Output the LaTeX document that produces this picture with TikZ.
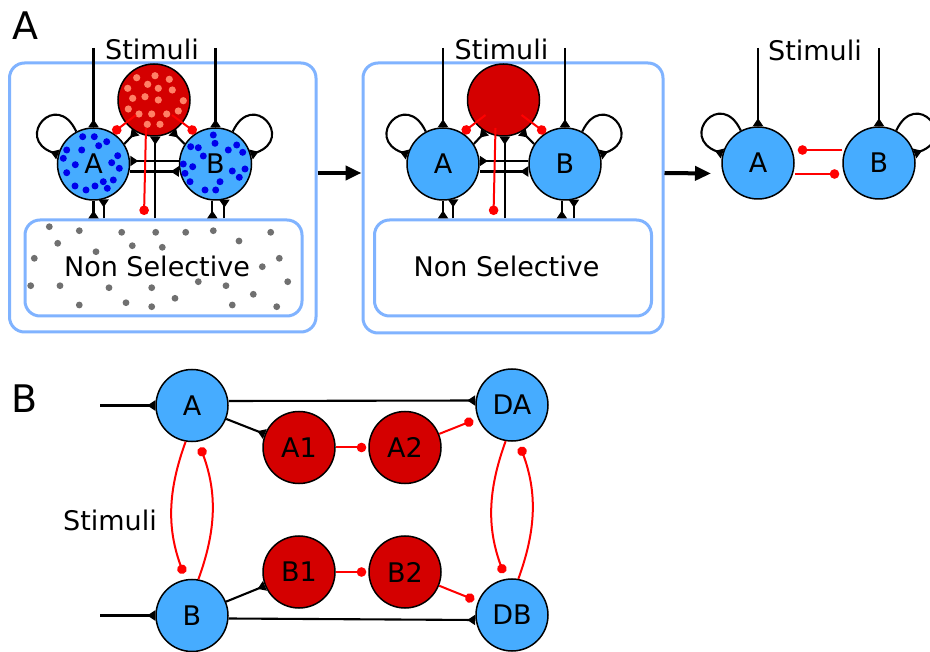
\documentclass[tikz,border=0pt]{standalone}
\usepackage{fontspec}
\setmainfont{DejaVu Sans}
\usetikzlibrary{arrows.meta,calc}
\definecolor{popblue}{RGB}{70,172,255}
\definecolor{popred}{RGB}{212,0,0}
\definecolor{dotsalmon}{RGB}{255,128,102}
\definecolor{dotblue}{RGB}{0,0,235}
\definecolor{dotgray}{RGB}{112,112,112}
\definecolor{boxblue}{RGB}{128,179,255}
\definecolor{inhred}{RGB}{255,0,0}
\tikzset{
  pop/.style={circle, draw=black, line width=1.5pt, minimum size=72pt, inner sep=0pt, font=\fontsize{27}{30}\selectfont},
  bluepop/.style={pop, fill=popblue},
  redpop/.style={pop, fill=popred},
  exc/.style={draw=black, line width=2.1pt, -{Triangle[reversed,length=8pt,width=10pt]}},
  inh/.style={draw=inhred, line width=2pt, -{Circle[length=9.5pt]}},
  panelbox/.style={draw=boxblue, line width=3pt, rounded corners=15pt, inner sep=0pt},
  bigtext/.style={font=\fontsize{27}{30}\selectfont, inner sep=0pt},
  paneltag/.style={font=\fontsize{38}{40}\selectfont, inner sep=0pt},
  bigarrow/.style={draw=black, line width=4pt, -{Triangle[length=16pt,width=14pt]}},
}
\newcommand{\abnodes}[1]{%
  \node[panelbox, minimum width=277pt, minimum height=96pt] (ns#1) at (163.5,-268) {};
  \node[bigtext, anchor=base] (nst#1) at (157,-276.7) {Non Selective};
  \node[redpop] (R#1) at (154,-100) {};
  \node[bluepop] (A#1) at (93.5,-164) {A};
  \node[bluepop] (B#1) at (215.5,-164) {B};
  \node[bigtext, anchor=base] (st#1) at (152,-60) {Stimuli};
  \coordinate (sa#1) at (93.5,-48);
  \coordinate (sb#1) at (215.5,-48);
}
\newcommand{\abedges}[1]{%
  \draw[exc] (sa#1) -- (A#1.north);
  \draw[exc] (sb#1) -- (B#1.north);
  \draw[exc] (A#1.118) to[out=115,in=160,distance=47pt] (A#1.165);
  \draw[exc] (B#1.62) to[out=65,in=20,distance=47pt] (B#1.15);
  \draw[exc] ([yshift=3pt]B#1.west) -- ([yshift=3pt]A#1.east);
  \draw[exc] ([yshift=-7.5pt]A#1.east) -- ([yshift=-7.5pt]B#1.west);
  \draw[exc] (A#1.south) -- (A#1.south |- ns#1.north);
  \draw[exc] (A#1.-74 |- ns#1.north) -- (A#1.-74);
  \draw[exc] (B#1.-95) -- (B#1.-95 |- ns#1.north);
  \draw[exc] (B#1.-76 |- ns#1.north) -- (B#1.-76);
  \draw[exc] (R#1.-88 |- ns#1.north) -- (R#1.-88);
  \draw[exc] (A#1.33) -- (R#1.240);
  \draw[exc] (B#1.147) -- (R#1.300);
  \draw[inh] ($(R#1.center)+(-8,-28)$) -- ($(ns#1.north -| R#1.center)+(-10,3.5)$);
  \draw[inh] ($(R#1.center)+(-18,-15)$) -- (A#1.58);
  \draw[inh] ($(R#1.center)+(18,-15)$) -- (B#1.122);
}
\begin{document}
\begin{tikzpicture}[x=1pt,y=1pt]
\useasboundingbox (0,0) rectangle (930,-652);
\fill[white] (0,0) rectangle (930,-652);

% panel tags
\node[paneltag] (tagA) at (25.5,-25.5) {A};
\node[paneltag] (tagB) at (25,-398.5) {B};

% ---------- panel A, first box ----------
\node[panelbox, minimum width=306.5pt, minimum height=269pt] (o1) at (162.75,-197.5) {};
\abnodes{1}
\foreach \x/\y in {49.3/226.7,79.3/230.7,121.7/232.3,155.7/232.3,185.7/232.3,213.3/230.7,270.7/232.3,57.7/243.3,96/251.7,132.3/245.7,162.3/247.3,239/241,34.3/258.3,279.3/258.3,262.3/266.7,30.7/285.7,60/285.7,109/287.7,151.7/287.7,198.3/281.7,226/285.7,287.7/281.7,253.3/294.3,79.3/305,126/302.7,151.7/306.7,175/298.3,232.3/305,276.7/306.7}
  \fill[dotgray] (\x,-\y) circle (3.4);
\foreach \x/\y in {136.7/77.7,155/75.7,169.3/79.3,127.7/88.3,147.7/84.3,158.3/88.3,172.3/90,132.7/98.3,145/96.7,158.3/100,183.3/100.7,128.3/109,139/114,151.7/114,166.7/114,178.3/111,147.3/124.3,160/124.3}
  \fill[dotsalmon] (\x,-\y) circle (3.6);
\foreach \x/\y in {82.7/136.7,94.3/136.7,106.7/141.7,98.7/145.7,66.7/150,81.7/150,117.7/155.7,63.3/158.3,75.3/164.7,111.7/162.7,119.3/168.3,66.7/172.7,113.3/180,75/186,86/190,95/186,103.3/181.7,107.3/188.3}
  \fill[dotblue] (\x,-\y) circle (3.5);
\foreach \x/\y in {213.3/135,215/143.3,190.7/146.7,198.3/147.7,228.3/150,236.7/145,242.7/152.3,203.3/156,183.3/164,192.7/166.7,185/173.3,232.3/171,245/169,239.3/177.3,190/181.7,220/181.7,205/190,215.7/190}
  \fill[dotblue] (\x,-\y) circle (3.5);
\abedges{1}

% ---------- panel A, second box ----------
\node[panelbox, minimum width=300pt, minimum height=270pt] (o2) at (513,-198) {};
\begin{scope}[xshift=349.5pt]
  \abnodes{2}
  \abedges{2}
\end{scope}

\draw[bigarrow] ([yshift=24.5pt]o1.east) -- ([yshift=25pt]o2.west);
\coordinate (p3in) at (711,-173.5);
\draw[bigarrow] ([yshift=25pt]o2.east) -- (p3in);

% ---------- panel A, third part ----------
\node[bluepop] (A3) at (758,-163) {A};
\node[bluepop] (B3) at (879,-163) {B};
\node[bigtext, anchor=base] (st3) at (815,-60.5) {Stimuli};
\coordinate (sa3) at (758,-48);
\coordinate (sb3) at (879,-48);
\draw[exc] (sa3) -- (A3.north);
\draw[exc] (sb3) -- (B3.north);
\draw[exc] (A3.118) to[out=115,in=160,distance=47pt] (A3.165);
\draw[exc] (B3.62) to[out=65,in=20,distance=47pt] (B3.15);
\draw[inh, shorten >=3pt] ([yshift=13pt]B3.west) -- ([yshift=13pt]A3.east);
\draw[inh, shorten >=3pt] ([yshift=-11pt]A3.east) -- ([yshift=-11pt]B3.west);

% ---------- panel B ----------
\begin{scope}[every node/.append style={font=\fontsize{28}{30}\selectfont}]
\node[bluepop] (PA) at (192,-405.5) {A};
\node[bluepop] (PB) at (192,-615.5) {B};
\node[redpop] (A1) at (299,-447.5) {A1};
\node[redpop] (A2) at (405,-447.5) {A2};
\node[redpop] (B1) at (299,-572) {B1};
\node[redpop] (B2) at (405,-572) {B2};
\node[bluepop] (DA) at (512,-405) {DA};
\node[bluepop] (DB) at (512,-615) {DB};
\end{scope}
\node[bigtext, anchor=base] (stB) at (110,-530) {Stimuli};
\coordinate (inA) at (100,-405.5);
\coordinate (inB) at (100,-615.5);
\draw[exc] (inA) -- (PA.west);
\draw[exc] (inB) -- (PB.west);
\draw[exc] ([yshift=4.5pt]PA.east) -- ([yshift=4.5pt]DA.west);
\draw[exc] ([yshift=-3pt]PB.east) -- ([yshift=-5pt]DB.west);
\draw[exc] (PA) -- (A1);
\draw[exc] (PB) -- (B1);
\draw[inh, shorten >=2pt] (A1) -- (A2);
\draw[inh, shorten >=2pt] (B1) -- (B2);
\draw[inh, shorten >=5pt] (A2) -- (DA);
\draw[inh, shorten >=4pt] (B2) -- (DB);
\draw[inh, shorten >=6pt] (PA.-100) to[bend right=20] (PB.100);
\draw[inh, shorten >=6pt] (PB.80) to[bend right=20] (PA.-80);
\draw[inh, shorten >=6pt] (DA.-100) to[bend right=20] (DB.100);
\draw[inh, shorten >=6pt] (DB.80) to[bend right=20] (DA.-80);
\end{tikzpicture}
\end{document}
